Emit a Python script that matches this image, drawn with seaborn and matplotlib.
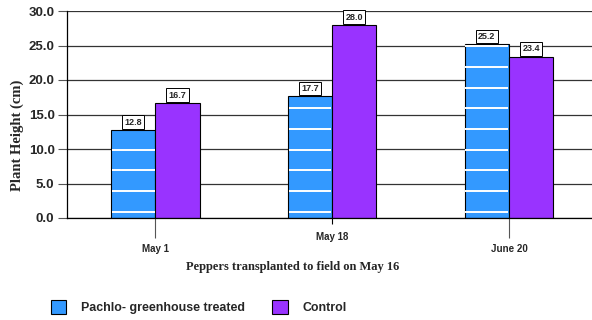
import numpy as np
import pandas as pd
import matplotlib
matplotlib.use("Agg")
import matplotlib.pyplot as plt
from matplotlib.patches import Patch
import seaborn as sns

dates = ["May 1", "May 18", "June 20"]
treated = [12.8, 17.7, 25.2]
control = [16.7, 28.0, 23.4]
series_names = ["Pachlo- greenhouse treated", "Control"]
y_ticks = [0.0, 5.0, 10.0, 15.0, 20.0, 25.0, 30.0]

BLUE = "#3399FF"
PURPLE = "#9933FF"

df = pd.DataFrame({
    "date": dates * 2,
    "height": treated + control,
    "series": [series_names[0]] * 3 + [series_names[1]] * 3,
})

sns.set_style("white")
plt.rcParams["font.family"] = ["Liberation Sans", "DejaVu Sans"]

W, H = 592, 320
fig = plt.figure(figsize=(W / 100, H / 100), dpi=100)
ax = fig.add_axes([67 / W, (H - 218) / H, 1 - 67 / W, (218 - 11) / H])

sns.barplot(data=df, x="date", y="height", hue="series", order=dates,
            hue_order=series_names, palette=[BLUE, PURPLE], width=0.5,
            edgecolor="black", linewidth=0.8, saturation=1, legend=False,
            ax=ax, zorder=3)

ax.set_xlim(-0.5, 2.47)
ax.set_ylim(0, 30)

# white horizontal stripes on the treated bars
stripe_levels = np.arange(0.9, 30, 3.0)
for bar in ax.containers[0]:
    x0, w, h = bar.get_x(), bar.get_width(), bar.get_height()
    lv = stripe_levels[stripe_levels < h - 0.2]
    ax.hlines(lv, x0 + 0.004, x0 + w - 0.004, colors="white", linewidth=1.4, zorder=4)

# value boxes above every bar
for cont in ax.containers:
    for bar in cont:
        h = bar.get_height()
        ax.annotate(f"{h:.1f}", (bar.get_x() + bar.get_width() / 2, h),
                    xytext=(0, 2.2), textcoords="offset points",
                    ha="center", va="bottom", fontsize=6.5, fontweight="bold",
                    bbox=dict(boxstyle="square,pad=0.25", fc="white", ec="black", lw=0.7),
                    zorder=6)

# grid
ax.set_yticks(y_ticks)
ax.set_yticklabels([f"{v:.1f}" for v in y_ticks], fontsize=9.5, fontweight="bold")
ax.yaxis.grid(True, color="#333333", linewidth=0.9, zorder=0)
ax.set_axisbelow(True)
ax.tick_params(axis="y", direction="out", length=6.5, width=0.8, color="#555555",
               pad=2.5, left=True)

# staggered category labels with long / short ticks
ax.set_xticks([0, 2])
ax.set_xticklabels([dates[0], dates[2]], fontsize=7, fontweight="bold")
ax.set_xticks([1], minor=True)
ax.set_xticklabels([dates[1]], minor=True, fontsize=7, fontweight="bold")
ax.tick_params(axis="x", which="major", direction="out", length=14.5, width=0.8,
               color="#555555", pad=4, bottom=True)
ax.tick_params(axis="x", which="minor", direction="out", length=4.5, width=0.8,
               color="black", pad=5.5, bottom=True)
ax.set_xlabel("")
ax.set_ylabel("")

for side in ["top", "right"]:
    ax.spines[side].set_visible(False)
for side in ["left", "bottom"]:
    ax.spines[side].set_color("black")
    ax.spines[side].set_linewidth(0.9)
    ax.spines[side].set_zorder(5)

fig.text(293 / W, 1 - 267 / H, "Peppers transplanted to field on May 16",
         ha="center", va="center", fontsize=9, fontweight="bold",
         family=["Liberation Serif", "DejaVu Serif"])
fig.text(17 / W, 1 - 135 / H, "Plant Height (cm)", rotation=90,
         ha="center", va="center", fontsize=10.5, fontweight="bold",
         family=["Liberation Serif", "DejaVu Serif"])

handles = [Patch(facecolor=BLUE, edgecolor="black", linewidth=0.8),
           Patch(facecolor=PURPLE, edgecolor="black", linewidth=0.8)]
fig.legend(handles, series_names, loc="center left",
           bbox_to_anchor=(51 / W, 1 - 307 / H), ncol=2, frameon=False,
           prop=dict(size=8.9, weight="bold"), handlelength=1.25, handleheight=1.4,
           handletextpad=1.2, columnspacing=2.2, borderaxespad=0, borderpad=0)

fig.savefig("out.png", dpi=100)
